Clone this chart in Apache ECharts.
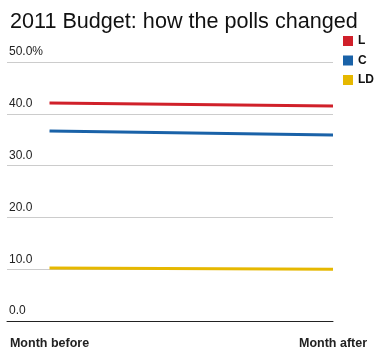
<!DOCTYPE html>
<html><head><meta charset="utf-8">
<script src="https://cdn.jsdelivr.net/npm/echarts@6/dist/echarts.min.js"></script>
<style>html,body{margin:0;padding:0;background:#fff}#c{width:383px;height:357px}</style>
</head><body><div id="c"></div>
<script>
const categories = ['Month before', 'Month after'];
const seriesNames = ['L', 'C', 'LD'];
const L = [42.1, 41.5];
const C = [36.7, 35.9];
const LD = [10.25, 10.0];
const colors = ['#d0202a', '#1a62a8', '#e6b800'];
const yTicks = [0, 10, 20, 30, 40, 50];

const chart = echarts.init(document.getElementById('c'));
const mk = (name, vals, i) => ({
  name, type: 'line', symbol: 'none', color: colors[i],
  lineStyle: { width: 3, color: colors[i] },
  data: vals.map((v, k) => [k, v])
});
chart.setOption({
  animation: false,
  title: { text: '2011 Budget: how the polls changed', left: 5, top: 6,
    textStyle: { fontFamily: 'Liberation Sans, Arial, sans-serif', fontSize: 21.6, fontWeight: 'normal', color: '#111' } },
  legend: { orient: 'vertical', left: 343, top: 35, padding: 0, icon: 'rect', itemWidth: 10, itemHeight: 10, itemGap: 7.5,
    textStyle: { fontFamily: 'Liberation Sans, Arial, sans-serif', fontSize: 12, fontWeight: 'bold', color: '#111', padding: [0,0,0,0] },
    data: seriesNames },
  grid: { left: 7, right: 50, top: 62, bottom: 36 },
  xAxis: { type: 'value', min: -0.15, max: 1,
    splitLine: { show: false },
    axisLine: { show: true, lineStyle: { color: '#222', width: 1 } },
    axisTick: { show: false },
    axisLabel: { customValues: [0, 1], formatter: v => categories[Math.round(v)] || '', margin: 16,
      fontFamily: 'Liberation Sans, Arial, sans-serif', fontSize: 12.5, fontWeight: 'bold', color: '#222' } },
  yAxis: { type: 'value', min: 0, max: 50, interval: 10,
    axisLine: { show: false }, axisTick: { show: false },
    splitLine: { lineStyle: { color: '#cccccc', width: 1 } },
    axisLabel: { inside: true, margin: 2, verticalAlign: 'bottom', padding: [0,0,4,0],
      formatter: v => (v === yTicks[yTicks.length-1] ? v.toFixed(1) + '%' : v.toFixed(1)),
      fontFamily: 'Liberation Sans, Arial, sans-serif', fontSize: 12, color: '#222' } },
  series: [mk('L', L, 0), mk('C', C, 1), mk('LD', LD, 2)]
});
</script></body></html>
